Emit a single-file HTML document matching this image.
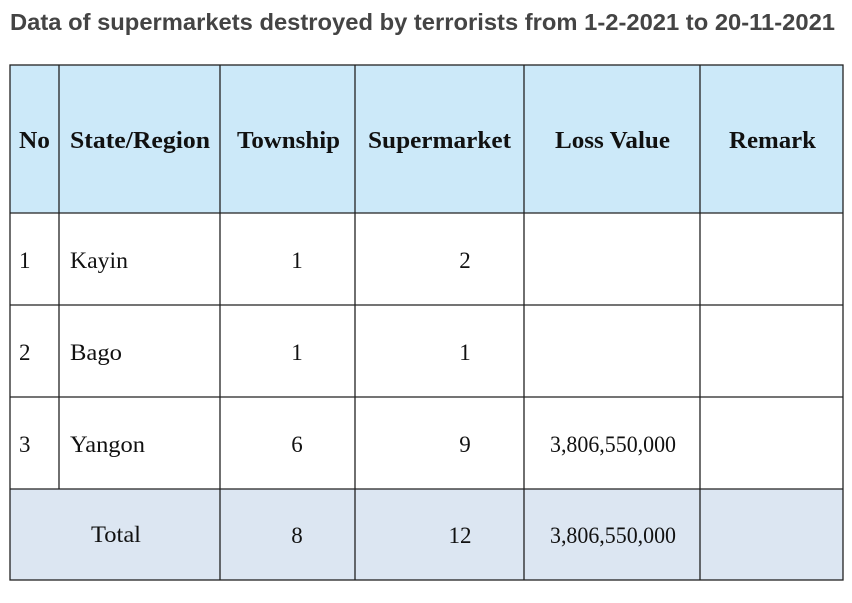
<!DOCTYPE html>
<html><head><style>
body{margin:0;background:#fff;width:852px;height:603px;overflow:hidden}
svg{display:block}
</style></head><body>
<svg width="852" height="603" xmlns="http://www.w3.org/2000/svg">
<text x="10" y="30" font-family="Liberation Sans, sans-serif" font-weight="bold" font-size="23" fill="#444" textLength="825" lengthAdjust="spacingAndGlyphs">Data of supermarkets destroyed by terrorists from 1-2-2021 to 20-11-2021</text>
<rect x="10" y="65" width="833" height="148" fill="#cce9f9"/>
<rect x="10" y="489" width="833" height="91" fill="#dce6f2"/>
<g stroke="#222" stroke-width="1.3" fill="none">
<rect x="10" y="65" width="833" height="515"/>
<line x1="10" y1="213" x2="843" y2="213"/>
<line x1="10" y1="305" x2="843" y2="305"/>
<line x1="10" y1="397" x2="843" y2="397"/>
<line x1="10" y1="489" x2="843" y2="489"/>
<line x1="59" y1="65" x2="59" y2="489"/>
<line x1="220" y1="65" x2="220" y2="580"/>
<line x1="355" y1="65" x2="355" y2="580"/>
<line x1="524" y1="65" x2="524" y2="580"/>
<line x1="700" y1="65" x2="700" y2="580"/>
</g>
<g font-family="Liberation Serif, serif" font-weight="bold" font-size="24" fill="#111">
<text x="19" y="148" textLength="31" lengthAdjust="spacingAndGlyphs">No</text>
<text x="70" y="148" textLength="140" lengthAdjust="spacingAndGlyphs">State/Region</text>
<text x="237" y="148" textLength="103" lengthAdjust="spacingAndGlyphs">Township</text>
<text x="368" y="148" textLength="143" lengthAdjust="spacingAndGlyphs">Supermarket</text>
<text x="555" y="148" textLength="115" lengthAdjust="spacingAndGlyphs">Loss Value</text>
<text x="729" y="148" textLength="87" lengthAdjust="spacingAndGlyphs">Remark</text>
</g>
<g font-family="Liberation Serif, serif" font-size="23" fill="#111">
<text x="19" y="268">1</text><text x="70" y="268" textLength="58" lengthAdjust="spacingAndGlyphs">Kayin</text>
<text x="297" y="268" text-anchor="middle">1</text><text x="465" y="268" text-anchor="middle">2</text>
<text x="19" y="360">2</text><text x="70" y="360" textLength="52" lengthAdjust="spacingAndGlyphs">Bago</text>
<text x="297" y="360" text-anchor="middle">1</text><text x="465" y="360" text-anchor="middle">1</text>
<text x="19" y="452">3</text><text x="70" y="452" textLength="75" lengthAdjust="spacingAndGlyphs">Yangon</text>
<text x="297" y="452" text-anchor="middle">6</text><text x="465" y="452" text-anchor="middle">9</text>
<text x="550" y="452" textLength="126" lengthAdjust="spacingAndGlyphs">3,806,550,000</text>
<text x="91" y="542" textLength="50" lengthAdjust="spacingAndGlyphs">Total</text>
<text x="297" y="543" text-anchor="middle">8</text><text x="460" y="543" text-anchor="middle">12</text>
<text x="550" y="543" textLength="126" lengthAdjust="spacingAndGlyphs">3,806,550,000</text>
</g>
</svg>
</body></html>
